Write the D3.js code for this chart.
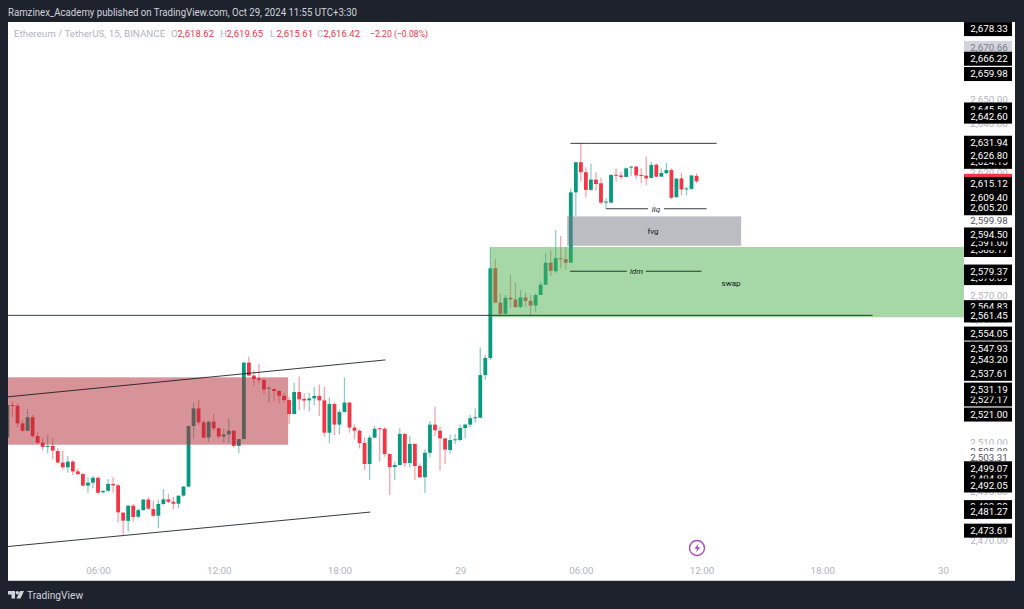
<!DOCTYPE html>
<html>
<head>
<meta charset="utf-8">
<script src="https://cdn.jsdelivr.net/npm/d3@7"></script>
<style>
  html, body { margin: 0; padding: 0; background: #1e222d; overflow: hidden; }
  svg { display: block; font-family: Roboto, sans-serif; }
</style>
</head>
<body>
<svg id="chart" width="1024" height="609"></svg>
<script>
// ETHUSDT 15m bars, first bar 28 Oct 01:30
const barOpen = [2511.8,2525.1,2524.8,2517.6,2514.6,2520.1,2512.4,2509.7,2508.1,2508.4,2506.3,2501.6,2499.7,2502.0,2498.0,2496.9,2492.2,2493.4,2495.4,2489.5,
  2490.1,2492.9,2492.3,2481.2,2477.8,2484.0,2479.5,2482.2,2486.5,2482.6,2479.9,2484.7,2486.6,2485.6,2484.8,2488.1,2491.8,2516.5,2523.7,2518.0,
  2511.8,2518.3,2515.6,2512.2,2513.1,2514.6,2508.4,2511.2,2542.4,2537.1,2535.9,2535.3,2531.9,2531.6,2530.8,2528.8,2527.1,2521.4,2530.4,2527.6,
  2527.0,2527.8,2528.8,2527.0,2513.8,2525.5,2517.1,2522.2,2526.1,2515.9,2514.6,2509.6,2501.0,2511.8,2515.6,2515.4,2505.1,2499.8,2500.6,2513.3,
  2501.4,2509.2,2500.2,2495.6,2505.6,2517.1,2514.6,2511.5,2506.7,2510.8,2510.8,2515.7,2517.1,2519.8,2519.9,2537.3,2544.3,2580.9,2566.9,2562.3,
  2568.9,2568.2,2565.1,2569.0,2567.6,2565.7,2570.0,2574.2,2583.2,2579.7,2585.0,2584.6,2583.2,2611.9,2624.2,2620.1,2612.9,2617.1,2615.6,2607.7,
  2607.7,2619.1,2618.8,2618.2,2622.0,2622.4,2619.0,2618.7,2617.8,2623.2,2618.3,2619.7,2621.0,2609.9,2617.6,2613.3,2613.3,2618.62];
const barHigh = [2525.8,2526.5,2525.8,2519.0,2523.5,2521.0,2514.2,2511.5,2512.9,2511.5,2507.4,2506.5,2504.3,2502.7,2499.3,2497.5,2495.6,2496.1,2495.9,2490.4,
  2494.8,2495.6,2492.9,2481.2,2484.3,2484.7,2482.9,2486.6,2487.7,2486.0,2486.3,2490.8,2488.8,2487.7,2488.1,2492.0,2516.7,2526.1,2527.1,2519.0,
  2518.6,2521.4,2516.0,2515.3,2519.7,2514.9,2511.2,2542.7,2544.8,2539.1,2541.8,2536.0,2532.6,2531.6,2531.2,2529.9,2528.5,2534.2,2536.7,2529.9,
  2530.1,2532.6,2533.5,2532.6,2528.2,2526.1,2523.3,2536.4,2526.1,2517.2,2515.2,2511.9,2512.9,2516.5,2515.6,2516.0,2505.1,2502.0,2515.6,2513.8,
  2512.4,2509.5,2501.3,2507.0,2518.6,2524.4,2516.3,2511.5,2513.1,2513.3,2517.1,2517.6,2521.0,2523.7,2548.6,2545.5,2589.7,2584.6,2570.7,2570.0,
  2578.2,2575.0,2572.0,2571.0,2570.0,2570.7,2575.5,2587.0,2588.4,2596.5,2594.1,2589.7,2613.5,2624.2,2631.9,2622.1,2623.7,2620.1,2617.9,2609.5,
  2619.3,2621.7,2620.3,2622.0,2622.7,2622.8,2621.7,2626.5,2624.4,2623.7,2621.7,2624.0,2621.7,2617.9,2619.9,2614.2,2618.8,2619.65];
const barLow = [2511.8,2520.1,2516.0,2514.2,2514.6,2511.9,2509.2,2506.7,2505.4,2502.9,2501.3,2498.8,2497.5,2496.5,2496.5,2492.0,2489.3,2491.1,2488.8,2489.0,
  2489.7,2489.3,2477.1,2472.0,2473.4,2477.5,2478.8,2482.0,2482.2,2479.5,2474.8,2484.3,2485.0,2482.6,2482.9,2487.7,2491.5,2511.5,2516.9,2511.4,
  2510.1,2514.6,2511.5,2509.9,2509.5,2507.8,2505.4,2511.1,2536.7,2533.0,2533.9,2529.6,2526.1,2526.5,2525.8,2526.2,2517.3,2521.4,2523.1,2523.3,
  2522.4,2525.1,2520.6,2512.2,2509.5,2512.9,2513.1,2522.2,2513.8,2511.1,2507.4,2498.6,2494.5,2511.5,2502.0,2504.0,2488.4,2494.5,2500.6,2499.9,
  2499.7,2494.5,2495.4,2489.3,2503.7,2512.4,2498.3,2501.0,2505.2,2509.2,2510.5,2511.5,2515.9,2517.9,2519.9,2535.3,2543.5,2566.6,2561.8,2562.3,
  2564.6,2564.6,2564.6,2565.2,2561.4,2563.2,2570.0,2574.1,2577.8,2578.9,2580.9,2580.2,2583.2,2602.2,2616.3,2609.9,2612.6,2612.6,2607.1,2605.1,
  2607.7,2616.3,2617.2,2618.2,2618.6,2617.2,2615.6,2614.9,2617.6,2618.0,2618.3,2619.4,2609.2,2609.9,2610.8,2610.6,2612.9,2615.61];
const barClose = [2525.1,2524.8,2517.6,2514.6,2520.1,2512.4,2509.7,2508.0,2508.4,2506.5,2501.6,2499.7,2502.0,2498.0,2496.9,2492.2,2493.4,2495.4,2489.3,2490.0,
  2492.9,2492.3,2481.3,2477.9,2484.0,2479.4,2482.2,2486.5,2482.8,2479.9,2484.7,2486.6,2485.6,2484.8,2488.1,2491.8,2516.5,2523.7,2518.0,2511.8,
  2518.3,2515.6,2512.2,2513.1,2514.6,2508.4,2511.2,2542.4,2537.1,2535.7,2535.3,2531.4,2532.2,2530.8,2528.9,2527.1,2521.4,2530.4,2527.4,2526.9,
  2527.8,2528.8,2527.0,2513.8,2525.5,2517.1,2522.2,2526.1,2515.9,2514.6,2509.6,2501.0,2511.8,2515.4,2515.4,2505.1,2499.8,2500.6,2513.3,2501.4,
  2509.2,2500.2,2495.6,2505.6,2517.1,2514.8,2511.5,2506.9,2510.8,2511.1,2515.7,2517.1,2519.7,2520.1,2537.3,2544.3,2580.9,2566.9,2562.3,2568.9,
  2568.2,2565.1,2569.0,2567.6,2565.7,2570.0,2574.2,2583.2,2579.9,2585.0,2584.6,2583.2,2611.9,2624.2,2620.1,2612.9,2617.1,2615.3,2607.7,2608.1,
  2619.0,2618.8,2618.2,2621.7,2622.4,2618.8,2618.7,2617.6,2623.1,2618.3,2619.8,2621.0,2609.7,2617.5,2613.1,2613.5,2618.8,2616.42];

// time axis
const timeTicks = [Date.UTC(2024,9,28,6),Date.UTC(2024,9,28,12),Date.UTC(2024,9,28,18),Date.UTC(2024,9,29),
  Date.UTC(2024,9,29,6),Date.UTC(2024,9,29,12),Date.UTC(2024,9,29,18),Date.UTC(2024,9,30)];
const gridPrices = d3.range(2470, 2690, 10);

// price axis tags, in draw order (later ones cover earlier ones)
const blackTags = [2678.33,2666.22,2659.98,2645.52,2642.60,2631.94,2624.15,2626.80,2615.12,2609.40,2605.20,2588.17,2591.00,2594.50,
  2576.69,2579.37,2564.83,2561.45,2554.05,2547.93,2543.20,2537.61,2527.17,2531.19,2521.00,2494.87,2499.07,2492.05,2483.22,2481.27,2473.61];
const whiteTags = [2599.98,2505.88,2503.31];
const highlightTag = 2670.66;
const lastPrice = 2616.42;

// drawings: [start, end, top price, bottom price]
const zoneOb = [Date.UTC(2024,9,28,0), Date.UTC(2024,9,28,15,27), 2536.4, 2508.9];
const zoneSwap = [Date.UTC(2024,9,29,1,30), Date.UTC(2024,9,30,12), 2589.6, 2560.9];
const zoneFvg = [Date.UTC(2024,9,29,5,19), Date.UTC(2024,9,29,13,58), 2602.1, 2590.1];

// drawings: [t1, p1, t2, p2]
const trendLines = [
  [Date.UTC(2024,9,28,1,28), 2528.4, Date.UTC(2024,9,28,20,17), 2543.5],
  [Date.UTC(2024,9,28,1,28), 2467.3, Date.UTC(2024,9,28,19,32), 2481.4],
  [Date.UTC(2024,9,28,1,0), 2561.7, Date.UTC(2024,9,29,20,30), 2561.7],
  [Date.UTC(2024,9,29,5,29), 2631.9, Date.UTC(2024,9,29,12,45), 2631.9],
  [Date.UTC(2024,9,29,7,15), 2605.2, Date.UTC(2024,9,29,9,20), 2605.2],
  [Date.UTC(2024,9,29,10,8), 2605.2, Date.UTC(2024,9,29,12,15), 2605.2],
  [Date.UTC(2024,9,29,5,28), 2579.7, Date.UTC(2024,9,29,8,17), 2579.7],
  [Date.UTC(2024,9,29,9,14), 2579.7, Date.UTC(2024,9,29,12,0), 2579.7],
];
// [label, time, price]
const notes = [
  ["liq", Date.UTC(2024,9,29,9,44), 2605.2],
  ["idm", Date.UTC(2024,9,29,8,46), 2579.7],
  ["fvg", Date.UTC(2024,9,29,9,35), 2596.1],
  ["swap", Date.UTC(2024,9,29,13,28), 2574.9],
];

const headerText = "Ramzinex_Academy published on TradingView.com, Oct 29, 2024 11:55 UTC+3:30";
const symbolText = "Ethereum / TetherUS, 15, BINANCE";
const legendOHLC = [["O","2,618.62"],["H","2,619.65"],["L","2,615.61"],["C","2,616.42"]];
const legendChange = "\u22122.20 (\u22120.08%)";

const upColor = "#089981";
const downColor = "#f23645";
const inkColor = "#131722";
const mutedColor = "#b2b5be";

const svg = d3.select("#chart");
const plotW = { left: 8, right: 1015, top: 22, bottom: 581, axis: 964 };

const x = d3.scaleUtc().domain([timeTicks[0], timeTicks[7]]).range([98, 943]);
const y = d3.scaleLinear().domain([2650, 2570]).range([99, 295]);
const fmt = d3.format(",.2f");
const barTime = (i) => d3.utcMinute.offset(new Date(Date.UTC(2024,9,28,1,30)), i * 15);

svg.append("rect")
  .attr("x", plotW.left).attr("y", plotW.top)
  .attr("width", plotW.right - plotW.left).attr("height", plotW.bottom - plotW.top)
  .attr("fill", "#fff");
svg.append("rect")
  .attr("x", plotW.left).attr("y", plotW.bottom - 1)
  .attr("width", plotW.right - plotW.left).attr("height", 1)
  .attr("fill", "#c9cbd1");

svg.append("defs").append("clipPath").attr("id", "pane").append("rect")
  .attr("x", plotW.left).attr("y", plotW.top)
  .attr("width", plotW.axis - plotW.left).attr("height", plotW.bottom - plotW.top);

const pane = svg.append("g").attr("clip-path", "url(#pane)");

// candles
const bars = pane.selectAll("g.bar").data(barOpen).join("g").attr("class", "bar");
const barColor = (d, i) => (barClose[i] >= d ? upColor : downColor);
const bodyW = 3.8;

bars.append("line")
  .attr("x1", (d, i) => x(barTime(i))).attr("x2", (d, i) => x(barTime(i)))
  .attr("y1", (d, i) => y(barHigh[i])).attr("y2", (d, i) => y(barLow[i]))
  .attr("stroke", barColor).attr("stroke-width", 1.2).attr("stroke-opacity", 0.5);

bars.append("rect")
  .attr("x", (d, i) => x(barTime(i)) - bodyW / 2)
  .attr("y", (d, i) => y(Math.max(d, barClose[i])))
  .attr("width", bodyW)
  .attr("height", (d, i) => Math.max(1, Math.abs(y(d) - y(barClose[i]))))
  .attr("fill", barColor);

// zones sit above the candles
const drawZone = (z, fill) => pane.append("rect")
  .attr("x", x(z[0])).attr("y", y(z[2]))
  .attr("width", x(z[1]) - x(z[0])).attr("height", y(z[3]) - y(z[2]))
  .attr("fill", fill);

drawZone(zoneOb, "rgba(178,40,51,0.5)");
drawZone(zoneSwap, "rgba(76,175,80,0.5)");
drawZone(zoneFvg, "rgba(120,123,134,0.5)");

pane.selectAll("line.trend").data(trendLines).join("line")
  .attr("class", "trend")
  .attr("x1", (d) => x(d[0])).attr("y1", (d) => y(d[1]))
  .attr("x2", (d) => x(d[2])).attr("y2", (d) => y(d[3]))
  .attr("stroke", inkColor).attr("stroke-opacity", 0.85).attr("stroke-width", 1);

pane.selectAll("text.note").data(notes).join("text")
  .attr("class", "note")
  .attr("x", (d) => x(d[1])).attr("y", (d) => y(d[2]))
  .attr("dy", "0.35em").attr("text-anchor", "middle")
  .attr("font-size", 8).attr("fill", inkColor)
  .attr("font-style", (d) => (d[0] === "liq" || d[0] === "idm" ? "italic" : "normal"))
  .text((d) => d[0]);

// time axis
const xAxis = d3.axisBottom(x)
  .tickValues(timeTicks)
  .tickSize(0)
  .tickFormat((d) => {
    const t = new Date(d);
    return t.getUTCHours() === 0 ? d3.utcFormat("%-d")(t) : d3.utcFormat("%H:%M")(t);
  });
const xAxisG = svg.append("g").attr("transform", "translate(0,564)").call(xAxis);
xAxisG.select(".domain").remove();
xAxisG.selectAll("text").attr("fill", mutedColor).attr("font-size", 9.8).attr("font-family", "Roboto, sans-serif");

// price axis, round-number labels first
const labelX = 989;
const yAxis = d3.axisRight(y).tickValues(gridPrices).tickSize(0).tickFormat(fmt);
const yAxisG = svg.append("g").call(yAxis);
yAxisG.select(".domain").remove();
yAxisG.selectAll("text")
  .attr("x", labelX).attr("text-anchor", "middle").attr("dy", "0.35em")
  .attr("fill", mutedColor).attr("font-size", 9.8).attr("font-family", "Roboto, sans-serif");

const drawTag = (price, bg, ink) => {
  svg.append("rect")
    .attr("x", 964).attr("y", y(price) - 7.5)
    .attr("width", 48).attr("height", 14)
    .attr("fill", bg);
  svg.append("text")
    .attr("x", labelX).attr("y", y(price) - 0.7)
    .attr("dy", "0.35em").attr("text-anchor", "middle")
    .attr("font-size", 9.8).attr("fill", ink)
    .text(fmt(price));
};

drawTag(highlightTag, "#d1d4dc", "#787b86");
whiteTags.forEach((p) => drawTag(p, "#fff", "#50535e"));
drawTag(lastPrice, downColor, "#fff");
blackTags.forEach((p) => drawTag(p, "#000", "#fff"));

// header and legend
svg.append("text").attr("x", 8).attr("y", 16)
  .attr("font-size", 10.4).attr("fill", "#d1d4dc")
  .attr("textLength", 349).attr("lengthAdjust", "spacingAndGlyphs")
  .text(headerText);

const legend = svg.append("g").attr("font-size", 9.8).attr("fill", mutedColor);
const legendY = 36.5;
legend.append("text").attr("x", 14).attr("y", legendY).text(symbolText);
const legendX = [171, 220, 270, 317];
legendOHLC.forEach((d, i) => {
  legend.append("text").attr("x", legendX[i]).attr("y", legendY).text(d[0]);
  legend.append("text").attr("x", legendX[i] + 6.5).attr("y", legendY)
    .attr("fill", downColor).attr("textLength", 36.5).attr("lengthAdjust", "spacingAndGlyphs").text(d[1]);
});
legend.append("text").attr("x", 370).attr("y", legendY)
  .attr("fill", downColor).attr("textLength", 58).attr("lengthAdjust", "spacingAndGlyphs").text(legendChange);

// footer logo
svg.append("path")
  .attr("d", "M8 591h7v7.5h-3.5v-4H8z M24 591l-3.5 7.5h-4l3.5-7.5z")
  .attr("fill", "#d1d4dc");
svg.append("circle").attr("cx", 17.3).attr("cy", 592.8).attr("r", 1.7).attr("fill", "#d1d4dc");
svg.append("text").attr("x", 27).attr("y", 598.5).attr("font-size", 10.2).attr("fill", "#d1d4dc").text("TradingView");

// bolt badge
svg.append("circle").attr("cx", 697).attr("cy", 548).attr("r", 7.5)
  .attr("fill", "none").attr("stroke", "#ab47bc").attr("stroke-width", 1.4);
svg.append("path").attr("d", "M698.5 543.5l-4 5.3h2.6l-1 3.7 4-5.3h-2.6z").attr("fill", "#ab47bc");
</script>
</body>
</html>
